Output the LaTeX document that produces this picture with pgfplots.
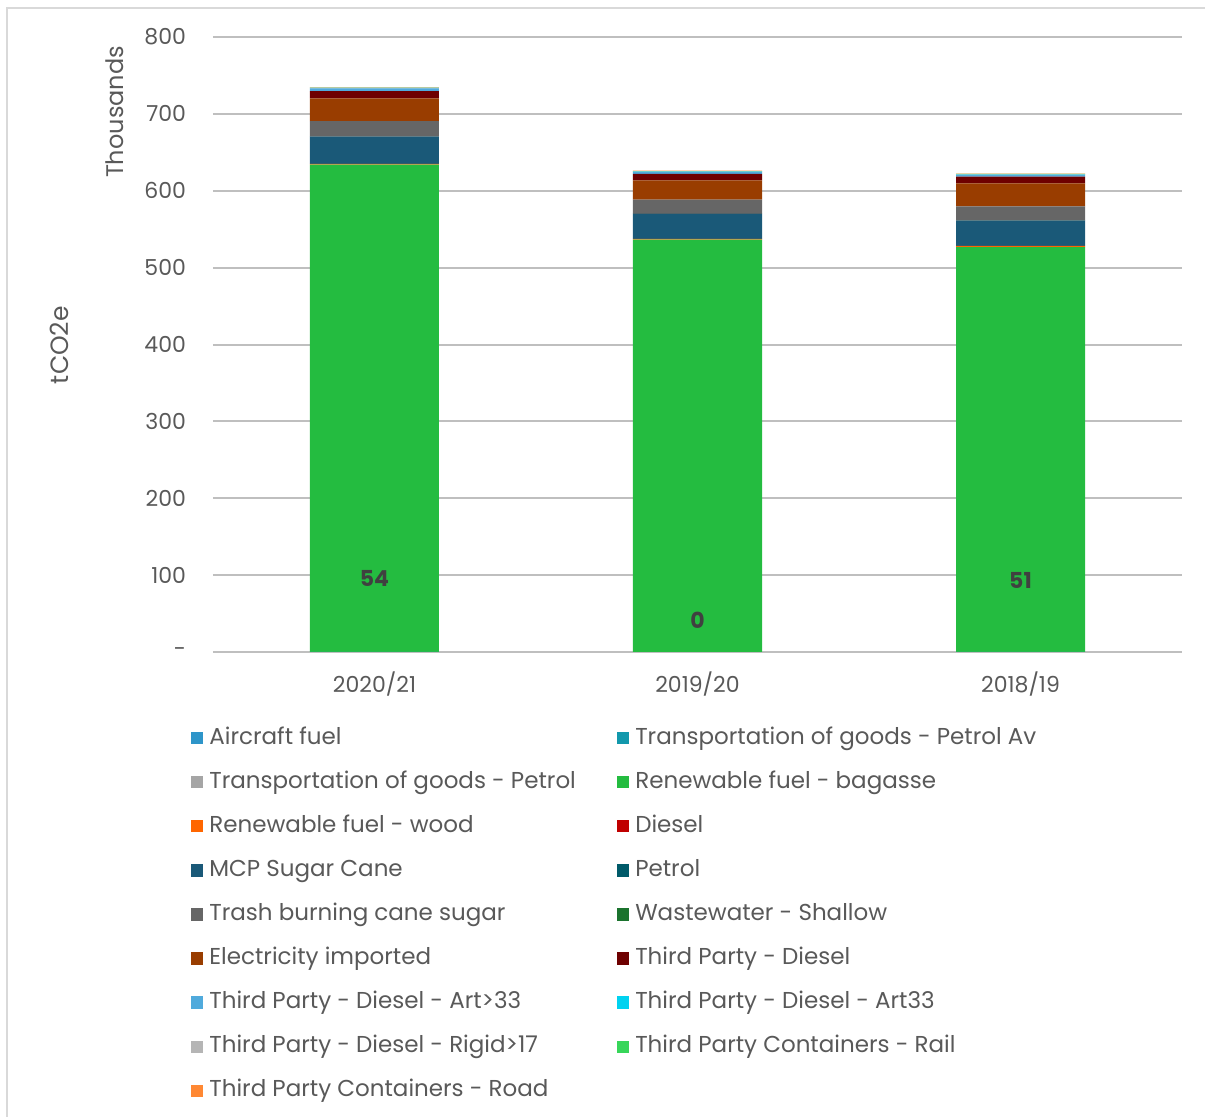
\documentclass[border=0pt]{standalone}
\usepackage{pgfplots}
\pgfplotsset{compat=1.18}
\usepackage{pgfplotstable}
\usepackage{fontspec}
\setmainfont{Poppins}
\definecolor{txt}{HTML}{595959}
\definecolor{lab}{HTML}{404040}
\definecolor{grid}{HTML}{D9D9D9}
\definecolor{cA}{RGB}{46,149,201}
\definecolor{cB}{RGB}{18,152,172}
\definecolor{cC}{HTML}{A5A5A5}
\definecolor{cD}{RGB}{36,188,64}
\definecolor{cE}{HTML}{FF6600}
\definecolor{cF}{HTML}{C00000}
\definecolor{cG}{RGB}{26,89,120}
\definecolor{cH}{RGB}{0,90,105}
\definecolor{cI}{HTML}{666666}
\definecolor{cJ}{RGB}{27,115,46}
\definecolor{cK}{RGB}{153,61,0}
\definecolor{cL}{RGB}{110,0,0}
\definecolor{cM}{RGB}{80,170,220}
\definecolor{cN}{RGB}{0,210,240}
\definecolor{cO}{HTML}{B5B5B5}
\definecolor{cP}{RGB}{55,214,90}
\definecolor{cQ}{RGB}{255,136,51}
\pgfplotstableread{
x A B C D E F G H I J K L M N O P Q
0 0.05 0 0 634.0 0.8 0 35.5 0.2 20.0 0 29.5 9.5 3.5 0.2 0.8 0.3 0.4
1 0.00 0 0 536.5 0.8 0 32.5 0.2 18.5 0 25.0 8.6 2.6 0.2 0.3 0.2 0.8
2 0.05 0 0 526.5 1.8 0 32.5 0.2 18.7 0 30.0 8.7 2.2 0.2 0.6 0.5 0.2
}\data
\begin{document}
\begin{tikzpicture}
\useasboundingbox (-106.5pt,-232.5pt) rectangle (496pt,326pt);
\draw[grid, line width=1pt] (-103pt,-232.5pt) -- (-103pt,322pt) -- (496pt,322pt);
\begin{axis}[
  scale only axis,
  width=484.5pt, height=307.5pt,
  ybar stacked, bar width=64.5pt,
  xmin=-0.5, xmax=2.5, ymin=0, ymax=800,
  xtick={0,1,2}, xticklabels={2020/21,2019/20,2018/19},
  ytick={0,100,...,800},
  yticklabels={-,100,200,300,400,500,600,700,800},
  major tick length=0pt,
  xtick style={draw=none}, ytick style={draw=none},
  xmajorgrids=false,
  axis line style={draw=none},
  ymajorgrids, grid style={grid, line width=1pt},
  every tick label/.append style={font=\fontsize{11pt}{13pt}\selectfont, text=txt},
  xticklabel style={yshift=-6.5pt},
  yticklabel style={xshift=-10pt},
  /pgf/number format/assume math mode=true,
  ylabel={tCO2e},
  ylabel style={font=\fontsize{12.5pt}{14pt}\selectfont, text=txt, at={(axis description cs:-0.158,0.499)}, anchor=center},
  legend columns=2,
  legend cell align=left,
  legend image code/.code={\fill[#1] (0pt,-3.1pt) rectangle (6.2pt,3.1pt); \path (7.2pt,0pt);},
  legend style={at={(axis description cs:-0.0227,-0.1139)}, anchor=north west, draw=none,
    inner sep=0pt, outer sep=0pt, font=\fontsize{11.5pt}{13pt}\selectfont, text=txt,
    row sep=6.05pt, nodes={inner sep=2pt, text height=9pt, text depth=3pt},
    /tikz/every even column/.append style={column sep=18.5pt}},
  clip=false,
]
\addplot[fill=cA, draw=none] table[x=x,y=A]{\data};
\addplot[fill=cB, draw=none] table[x=x,y=B]{\data};
\addplot[fill=cC, draw=none] table[x=x,y=C]{\data};
\addplot[fill=cD, draw=none] table[x=x,y=D]{\data};
\addplot[fill=cE, draw=none] table[x=x,y=E]{\data};
\addplot[fill=cF, draw=none] table[x=x,y=F]{\data};
\addplot[fill=cG, draw=none] table[x=x,y=G]{\data};
\addplot[fill=cH, draw=none] table[x=x,y=H]{\data};
\addplot[fill=cI, draw=none] table[x=x,y=I]{\data};
\addplot[fill=cJ, draw=none] table[x=x,y=J]{\data};
\addplot[fill=cK, draw=none] table[x=x,y=K]{\data};
\addplot[fill=cL, draw=none] table[x=x,y=L]{\data};
\addplot[fill=cM, draw=none] table[x=x,y=M]{\data};
\addplot[fill=cN, draw=none] table[x=x,y=N]{\data};
\addplot[fill=cO, draw=none] table[x=x,y=O]{\data};
\addplot[fill=cP, draw=none] table[x=x,y=P]{\data};
\addplot[fill=cQ, draw=none] table[x=x,y=Q]{\data};
\legend{Aircraft fuel, Transportation of goods - Petrol Av, Transportation of goods - Petrol, Renewable fuel - bagasse, Renewable fuel - wood, Diesel, MCP Sugar Cane, Petrol, Trash burning cane sugar, Wastewater - Shallow, Electricity imported, Third Party - Diesel, Third Party - Diesel - Art>33, Third Party - Diesel - Art33, Third Party - Diesel - Rigid>17, Third Party Containers - Rail, Third Party Containers - Road}
\coordinate (l1) at (axis cs:0,96);
\coordinate (l2) at (axis cs:1,41.6);
\coordinate (l3) at (axis cs:2,93.6);
\node[rotate=90, font=\fontsize{12pt}{14pt}\selectfont, text=txt] at (axis description cs:-0.1011,0.878) {Thousands};
\end{axis}
\node[font=\bfseries\fontsize{11pt}{13pt}\selectfont, text=lab] at (l1) {54};
\node[font=\bfseries\fontsize{11pt}{13pt}\selectfont, text=lab] at (l2) {0};
\node[font=\bfseries\fontsize{11pt}{13pt}\selectfont, text=lab] at (l3) {51};
\end{tikzpicture}
\end{document}
